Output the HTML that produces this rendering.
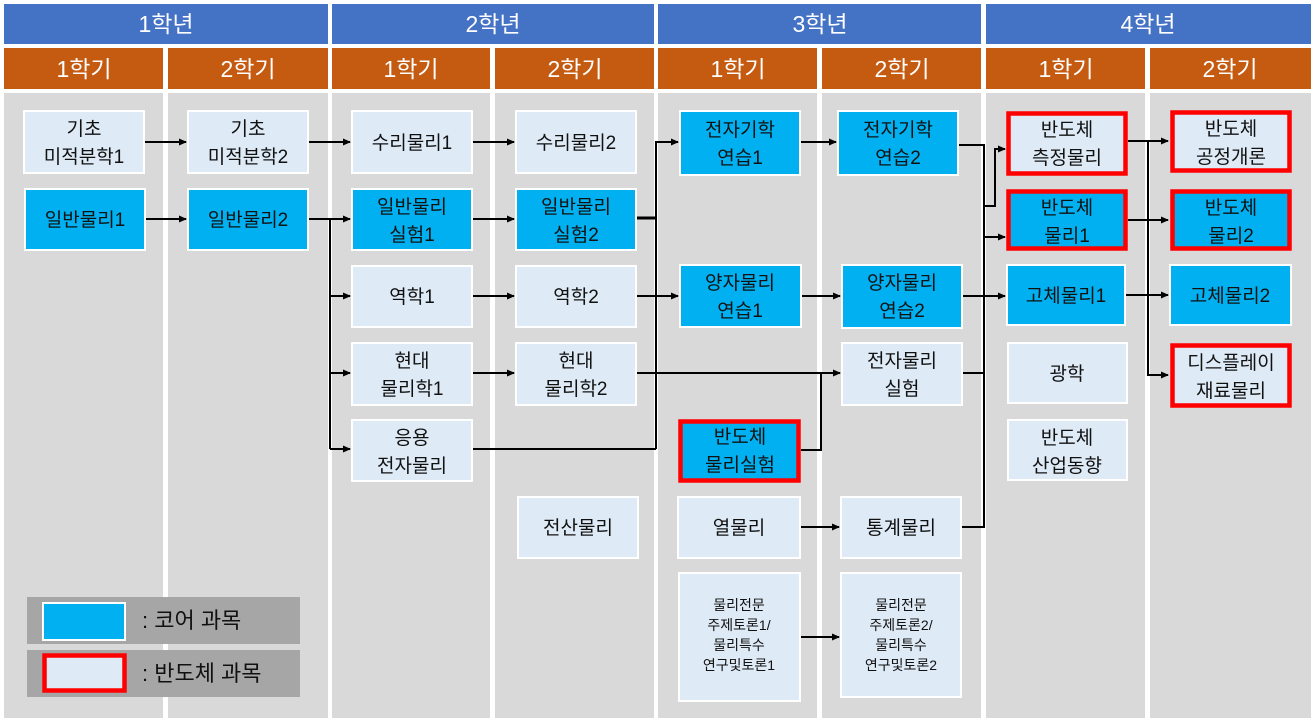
<!DOCTYPE html>
<html><head><meta charset="utf-8"><style>
html,body{margin:0;padding:0;background:#fff;}
svg{display:block;}
text{font-family:"Liberation Sans","Noto Sans CJK KR",sans-serif;text-anchor:middle;}
.h{fill:#fff;font-size:23px;}
.t{fill:#111;font-size:19px;}
.s{fill:#111;font-size:14px;}
.l{fill:none;stroke:#000;stroke-width:2;}
</style></head><body>
<svg width="1315" height="722" viewBox="0 0 1315 722" xmlns="http://www.w3.org/2000/svg">
<defs><marker id="a" markerWidth="8" markerHeight="8" refX="7" refY="4" orient="auto" markerUnits="userSpaceOnUse"><path d="M0,0.5 L8,4 L0,7.5 z" fill="#000"/></marker></defs>
<rect width="1315" height="722" fill="#fff"/>
<rect x="4" y="4" width="324" height="40" fill="#4472C4"/>
<rect x="332" y="4" width="322" height="40" fill="#4472C4"/>
<rect x="658" y="4" width="323" height="40" fill="#4472C4"/>
<rect x="986" y="4" width="325" height="40" fill="#4472C4"/>
<text class="h" x="166" y="32">1학년</text><text class="h" x="493" y="32">2학년</text>
<text class="h" x="820" y="32">3학년</text><text class="h" x="1148" y="32">4학년</text>
<g fill="#C55A11">
<rect x="4" y="48" width="159" height="41"/><rect x="168" y="48" width="160" height="41"/>
<rect x="332" y="48" width="158" height="41"/><rect x="495" y="48" width="159" height="41"/>
<rect x="658" y="48" width="159" height="41"/><rect x="822" y="48" width="159" height="41"/>
<rect x="986" y="48" width="159" height="41"/><rect x="1150" y="48" width="161" height="41"/>
</g>
<g fill="#D9D9D9">
<rect x="4" y="93" width="159" height="625"/><rect x="168" y="93" width="160" height="625"/>
<rect x="332" y="93" width="158" height="625"/><rect x="495" y="93" width="159" height="625"/>
<rect x="658" y="93" width="159" height="625"/><rect x="822" y="93" width="159" height="625"/>
<rect x="986" y="93" width="159" height="625"/><rect x="1150" y="93" width="161" height="625"/>
</g>
<g class="h">
<text x="84" y="77">1학기</text><text x="248" y="77">2학기</text><text x="411" y="77">1학기</text><text x="575" y="77">2학기</text>
<text x="738" y="77">1학기</text><text x="902" y="77">2학기</text><text x="1066" y="77">1학기</text><text x="1230" y="77">2학기</text>
</g>
<g class="l">
<path d="M145 142H186" marker-end="url(#a)"/><path d="M145 219H186" marker-end="url(#a)"/>
<path d="M309 142H350" marker-end="url(#a)"/>
<path d="M309 219H350" marker-end="url(#a)"/>
<path d="M330 219V449"/>
<path d="M330 296H350" marker-end="url(#a)"/><path d="M330 373H350" marker-end="url(#a)"/><path d="M330 449H350" marker-end="url(#a)"/>
<path d="M473 142H514" marker-end="url(#a)"/><path d="M473 219H514" marker-end="url(#a)"/>
<path d="M473 296H514" marker-end="url(#a)"/><path d="M473 373H514" marker-end="url(#a)"/>
<path d="M637 218H656" style="stroke-width:3"/>
<path d="M656 449V142H678" marker-end="url(#a)"/>
<path d="M473 449H656"/>
<path d="M637 296H678" marker-end="url(#a)"/>
<path d="M636 373H840" marker-end="url(#a)"/>
<path d="M801 450H821V373"/>
<path d="M801 142H836" marker-end="url(#a)"/>
<path d="M802 296H840" marker-end="url(#a)"/>
<path d="M801 527H839" marker-end="url(#a)"/>
<path d="M801 637H839" marker-end="url(#a)"/>
<path d="M959 145H984V527H961"/>
<path d="M963 296H1005" marker-end="url(#a)"/>
<path d="M963 373H984"/>
<path d="M984 206H995V149H1005" marker-end="url(#a)"/>
<path d="M984 237H1005" marker-end="url(#a)"/>
<path d="M1128 141H1168" marker-end="url(#a)"/>
<path d="M1128 220H1168" marker-end="url(#a)"/>
<path d="M1126 295H1168" marker-end="url(#a)"/>
<path d="M1148 141V375H1168" marker-end="url(#a)"/>
</g>
<g stroke="#fff" stroke-width="2">
<rect x="24" y="111" width="120" height="62" fill="#DEEAF6"/>
<rect x="25" y="189" width="120" height="61" fill="#00B0F0"/>
<rect x="188" y="111" width="120" height="62" fill="#DEEAF6"/>
<rect x="188" y="189" width="120" height="61" fill="#00B0F0"/>
<rect x="352" y="111" width="120" height="62" fill="#DEEAF6"/>
<rect x="352" y="189" width="120" height="61" fill="#00B0F0"/>
<rect x="352" y="266" width="120" height="61" fill="#DEEAF6"/>
<rect x="352" y="343" width="120" height="62" fill="#DEEAF6"/>
<rect x="352" y="420" width="120" height="61" fill="#DEEAF6"/>
<rect x="516" y="111" width="120" height="62" fill="#DEEAF6"/>
<rect x="516" y="189" width="120" height="61" fill="#00B0F0"/>
<rect x="516" y="266" width="120" height="61" fill="#DEEAF6"/>
<rect x="516" y="343" width="120" height="62" fill="#DEEAF6"/>
<rect x="518" y="497" width="120" height="61" fill="#DEEAF6"/>
<rect x="680" y="111" width="120" height="64" fill="#00B0F0"/>
<rect x="680" y="265" width="121" height="62" fill="#00B0F0"/>
<rect x="678" y="497" width="122" height="61" fill="#DEEAF6"/>
<rect x="679" y="573" width="121" height="128" fill="#DEEAF6"/>
<rect x="838" y="111" width="120" height="64" fill="#00B0F0"/>
<rect x="842" y="265" width="120" height="63" fill="#00B0F0"/>
<rect x="842" y="343" width="120" height="62" fill="#DEEAF6"/>
<rect x="841" y="497" width="120" height="61" fill="#DEEAF6"/>
<rect x="841" y="573" width="120" height="124" fill="#DEEAF6"/>
<rect x="1007" y="265" width="118" height="60" fill="#00B0F0"/>
<rect x="1008" y="343" width="119" height="60" fill="#DEEAF6"/>
<rect x="1008" y="420" width="119" height="60" fill="#DEEAF6"/>
<rect x="1170" y="265" width="121" height="60" fill="#00B0F0"/>
</g>
<g stroke="#FF0000" stroke-width="4.5">
<rect x="680.5" y="421.5" width="118" height="59" fill="#00B0F0"/>
<rect x="1008.5" y="113.5" width="117" height="60" fill="#DEEAF6"/>
<rect x="1008.5" y="191.5" width="117" height="57" fill="#00B0F0"/>
<rect x="1172.5" y="112.5" width="117" height="58" fill="#DEEAF6"/>
<rect x="1172.5" y="191.5" width="117" height="57" fill="#00B0F0"/>
<rect x="1172.5" y="345.5" width="117" height="60" fill="#DEEAF6"/>
</g>
<g class="t">
<text x="84" y="135">기초</text><text x="84" y="163">미적분학1</text>
<text x="85" y="226">일반물리1</text>
<text x="248" y="135">기초</text><text x="248" y="163">미적분학2</text>
<text x="248" y="226">일반물리2</text>
<text x="412" y="149">수리물리1</text>
<text x="412" y="213">일반물리</text><text x="412" y="241">실험1</text>
<text x="412" y="303">역학1</text>
<text x="412" y="367">현대</text><text x="412" y="395">물리학1</text>
<text x="412" y="444">응용</text><text x="412" y="472">전자물리</text>
<text x="576" y="149">수리물리2</text>
<text x="576" y="213">일반물리</text><text x="576" y="241">실험2</text>
<text x="576" y="303">역학2</text>
<text x="576" y="367">현대</text><text x="576" y="395">물리학2</text>
<text x="578" y="534">전산물리</text>
<text x="740" y="136">전자기학</text><text x="740" y="164">연습1</text>
<text x="740" y="289">양자물리</text><text x="740" y="317">연습1</text>
<text x="740" y="443">반도체</text><text x="740" y="471">물리실험</text>
<text x="739" y="534">열물리</text>
<text x="898" y="136">전자기학</text><text x="898" y="164">연습2</text>
<text x="902" y="289">양자물리</text><text x="902" y="317">연습2</text>
<text x="902" y="367">전자물리</text><text x="902" y="395">실험</text>
<text x="901" y="534">통계물리</text>
<text x="1067" y="136">반도체</text><text x="1067" y="164">측정물리</text>
<text x="1067" y="214">반도체</text><text x="1067" y="242">물리1</text>
<text x="1066" y="302">고체물리1</text>
<text x="1067" y="380">광학</text>
<text x="1067" y="444">반도체</text><text x="1067" y="472">산업동향</text>
<text x="1231" y="135">반도체</text><text x="1231" y="163">공정개론</text>
<text x="1231" y="214">반도체</text><text x="1231" y="242">물리2</text>
<text x="1230" y="302">고체물리2</text>
<text x="1231" y="369">디스플레이</text><text x="1231" y="397">재료물리</text>
</g>
<g class="s">
<text x="739" y="610">물리전문</text><text x="739" y="630">주제토론1/</text><text x="739" y="650">물리특수</text><text x="739" y="670">연구및토론1</text>
<text x="901" y="610">물리전문</text><text x="901" y="630">주제토론2/</text><text x="901" y="650">물리특수</text><text x="901" y="670">연구및토론2</text>
</g>
<rect x="27" y="597" width="273" height="47" fill="#A6A6A6"/>
<rect x="27" y="650" width="273" height="47" fill="#A6A6A6"/>
<rect x="43" y="603" width="82" height="37" fill="#00B0F0" stroke="#fff" stroke-width="2"/>
<rect x="44.5" y="655.5" width="80" height="35" fill="#DEEAF6" stroke="#FF0000" stroke-width="4.5"/>
<text x="142" y="628" style="font-size:22px;text-anchor:start;fill:#111">: 코어 과목</text>
<text x="142" y="681" style="font-size:22px;text-anchor:start;fill:#111">: 반도체 과목</text>
</svg>
</body></html>
